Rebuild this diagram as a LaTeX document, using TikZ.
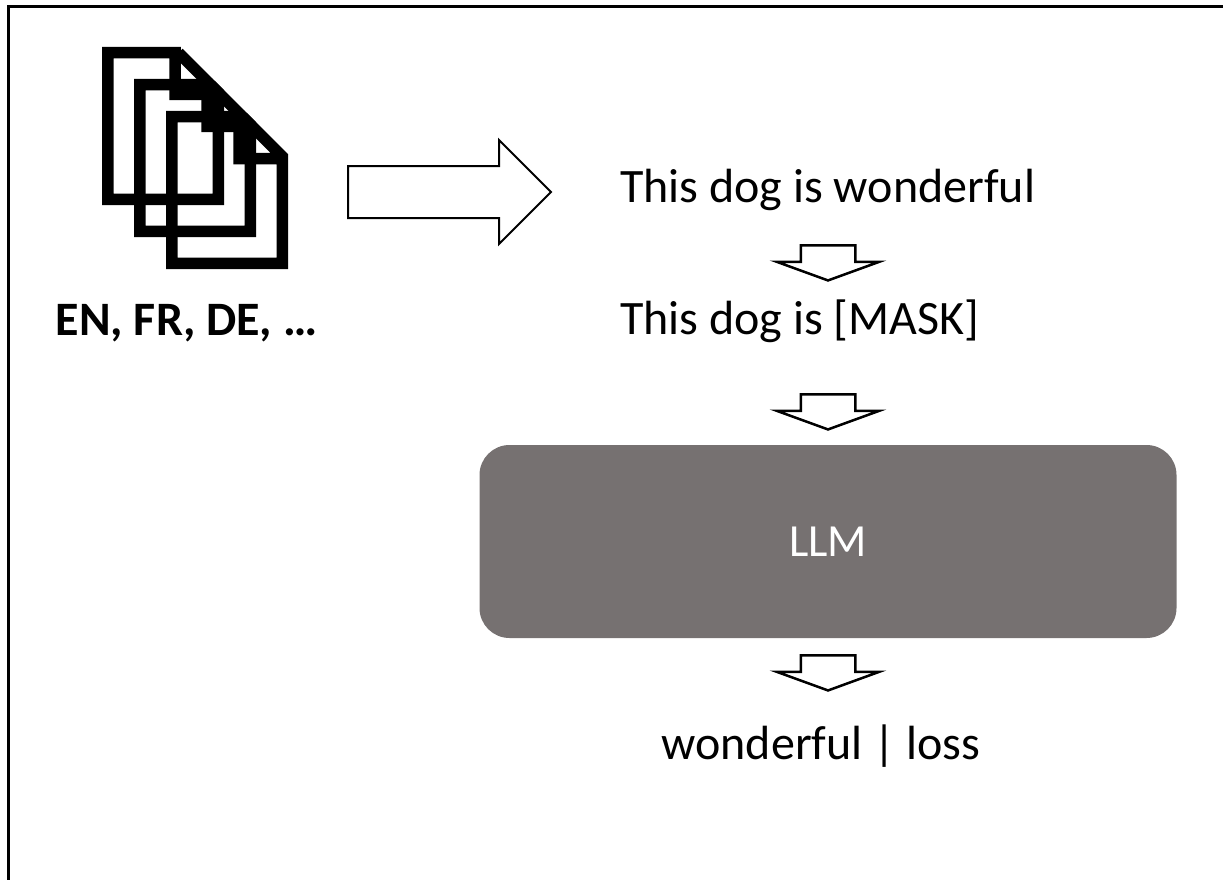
\documentclass[tikz,border=0pt]{standalone}
\usepackage{fontspec}
\setmainfont{Carlito}
\usetikzlibrary{shapes.arrows}
\definecolor{llmgray}{HTML}{767171}
\tikzset{
    doc/.style={line width=11.5pt,miter limit=10},
    bigarrow/.style={draw,line width=2pt,shape=single arrow,inner xsep=0pt,inner ysep=25pt,outer sep=0pt,
        minimum height=203pt,minimum width=102pt,single arrow head extend=26pt,single arrow tip angle=90},
    downarrow/.style={draw,line width=2.5pt,shape=single arrow,rotate=-90,inner xsep=0pt,inner ysep=26pt,outer sep=0pt,
        minimum height=35pt,minimum width=100pt,single arrow head extend=24pt,single arrow tip angle=140},
    label/.style={font=\fontsize{48pt}{48pt}\selectfont,inner sep=0pt}
}
\begin{document}
\begin{tikzpicture}[x=1pt,y=-1pt]
    \useasboundingbox (0,0) rectangle (1223,880);
    \draw[line width=3pt] (8.5,880) -- (8.5,6.5) -- (1223,6.5);
    % pages of the stack
    \foreach \s in {0,32,64}
        \draw[doc,shift={(\s,\s)}] (218.25,94.5) -- (175,94.5) -- (175,52.75) -- (107.75,52.75) -- (107.75,199.25) -- (218.25,199.25) -- (218.25,92.4) -- (178.6,52.75);
    \node[label,font=\fontsize{48pt}{48pt}\selectfont\bfseries,anchor=base] (langs) at (186.5,335) {EN, FR, DE, …};
    \node[bigarrow] (bigarr) at (436.5,192) {};
    \node[label,anchor=base west] (orig) at (620,202) {This dog is wonderful};
    \node[label,anchor=base west] (masked) at (620,334) {This dog is [MASK]};
    \node[fill=llmgray,rounded corners=30pt,minimum width=697pt,minimum height=193pt,inner sep=0pt,
        font=\fontsize{46pt}{46pt}\selectfont,text=white] (llm) at (828,541.5) {LLM};
    \node[label,anchor=base] (out) at (821,759) {wonderful | loss};
    \foreach \y/\n in {258/a,407/b,668/c}
        \node[downarrow] (down\n) at (828,\y) {};
\end{tikzpicture}
\end{document}
